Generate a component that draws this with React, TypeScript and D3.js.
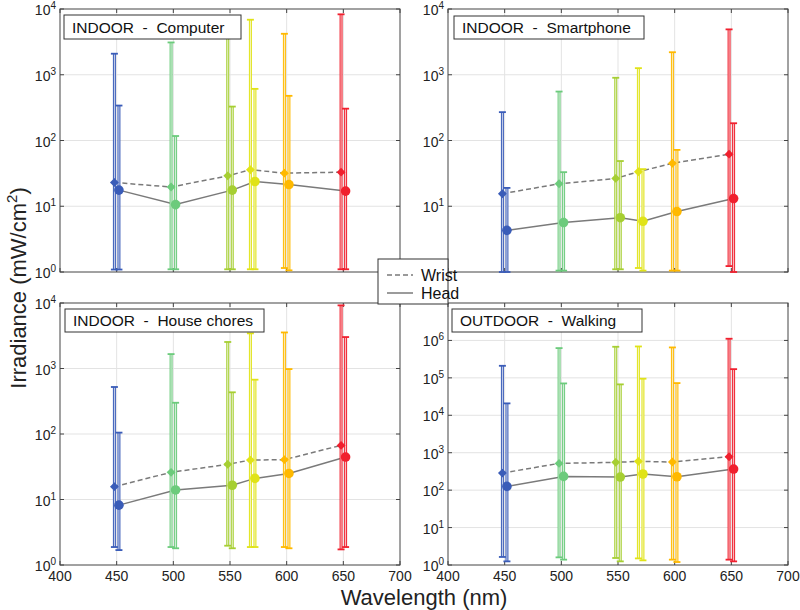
import { useEffect, useRef } from "react";
import * as d3 from "d3";

const wavelengths = [450, 500, 550, 570, 600, 650];
const colors = ["#3a5cb8", "#6ccb7c", "#a6cf32", "#e0e318", "#ffb900", "#f0202e"];

const titles = ["INDOOR  -  Computer", "INDOOR  -  Smartphone", "INDOOR  -  House chores", "OUTDOOR  -  Walking"];

// Computer
const pcWrist = [23, 19.6, 29, 35.9, 31.9, 33];
const pcWristHi = [2090, 3100, 5000, 6870, 4200, 8300];
const pcWristLo = [1.09, 1.1, 1.1, 1.1, 1.15, 1.1];
const pcHead = [17.6, 10.6, 17.6, 23.8, 21.4, 17];
const pcHeadHi = [340, 117, 328, 610, 478, 305];
const pcHeadLo = [1.09, 1.1, 1.1, 1.1, 1.06, 1.1];

// Smartphone
const spWrist = [15.5, 22, 26.5, 33.5, 45, 62];
const spWristHi = [270, 555, 900, 1260, 2200, 4900];
const spWristLo = [1.0, 1.05, 1.1, 1.15, 1.05, 1.23];
const spHead = [4.3, 5.65, 6.7, 5.9, 8.3, 13.1];
const spHeadHi = [19, 33, 48.7, 36.7, 72, 183];
const spHeadLo = [1.0, 1.05, 1.1, 1.05, 1.05, 1.0];

// House chores
const hcWrist = [15.7, 26, 34.4, 40, 40.6, 67];
const hcWristHi = [522, 1660, 2540, 3440, 3550, 9200];
const hcWristLo = [1.88, 1.88, 1.97, 1.88, 1.88, 1.73];
const hcHead = [8.2, 14, 16.5, 21, 25, 44.5];
const hcHeadHi = [105, 300, 433, 675, 980, 3020];
const hcHeadLo = [1.69, 1.8, 1.8, 1.88, 1.8, 1.88];

// Walking
const wkWrist = [286, 519, 552, 587, 563, 782];
const wkWristHi = [210000, 624000, 677000, 690000, 650000, 1110000];
const wkWristLo = [1.64, 1.6, 1.54, 1.5, 1.39, 1.39];
const wkHead = [126, 233, 224, 270, 228, 366];
const wkHeadHi = [20800, 71000, 67000, 95000, 72500, 171000];
const wkHeadLo = [1.25, 1.39, 1.25, 1.33, 1.2, 1.25];

const xTicks = [400, 450, 500, 550, 600, 650, 700];

export default function App() {
  const ref = useRef<SVGSVGElement>(null);

  useEffect(() => {
    const svg = d3.select(ref.current);
    svg.selectAll("*").remove();
    const font = "'Liberation Sans', Arial, sans-serif";
    const axisColor = "#444";

    const panels = [
      { x0: 60, y0: 9, x1: 400, y1: 272, maxExp: 4, topTick: 4, xLabels: false, hideZero: false,
        w: pcWrist, wHi: pcWristHi, wLo: pcWristLo, h: pcHead, hHi: pcHeadHi, hLo: pcHeadLo,
        box: [64, 15, 177, 24] },
      { x0: 448, y0: 9, x1: 788, y1: 272, maxExp: 4, topTick: 4, xLabels: false, hideZero: true,
        w: spWrist, wHi: spWristHi, wLo: spWristLo, h: spHead, hHi: spHeadHi, hLo: spHeadLo,
        box: [454, 16, 190, 23] },
      { x0: 60, y0: 303, x1: 400, y1: 565, maxExp: 4, topTick: 4, xLabels: true, hideZero: false,
        w: hcWrist, wHi: hcWristHi, wLo: hcWristLo, h: hcHead, hHi: hcHeadHi, hLo: hcHeadLo,
        box: [65, 309, 199, 23] },
      { x0: 448, y0: 303, x1: 788, y1: 565, maxExp: 7, topTick: 6, xLabels: true, hideZero: false,
        w: wkWrist, wHi: wkWristHi, wLo: wkWristLo, h: wkHead, hHi: wkHeadHi, hLo: wkHeadLo,
        box: [452, 309, 190, 23] },
    ];

    panels.forEach((p, pi) => {
      const x = d3.scaleLinear().domain([400, 700]).range([p.x0, p.x1]);
      const y = d3.scaleLog().domain([1, Math.pow(10, p.maxExp)]).range([p.y1, p.y0]);
      const g = svg.append("g");
      const yTicks = d3.range(0, p.topTick + 1).map(e => Math.pow(10, e));

      // grid
      xTicks.slice(1, -1).forEach(t => {
        g.append("line").attr("x1", x(t)).attr("x2", x(t)).attr("y1", p.y0).attr("y2", p.y1)
          .attr("stroke", "#e3e3e3").attr("stroke-width", 1);
      });
      yTicks.slice(1).forEach(t => {
        if (y(t) <= p.y0 + 1) return;
        g.append("line").attr("x1", p.x0).attr("x2", p.x1).attr("y1", y(t)).attr("y2", y(t))
          .attr("stroke", "#e3e3e3").attr("stroke-width", 1);
      });

      // frame + ticks
      g.append("rect").attr("x", p.x0).attr("y", p.y0).attr("width", p.x1 - p.x0).attr("height", p.y1 - p.y0)
        .attr("fill", "none").attr("stroke", axisColor).attr("stroke-width", 1);
      xTicks.forEach(t => {
        g.append("line").attr("x1", x(t)).attr("x2", x(t)).attr("y1", p.y1).attr("y2", p.y1 - 4).attr("stroke", axisColor);
        g.append("line").attr("x1", x(t)).attr("x2", x(t)).attr("y1", p.y0).attr("y2", p.y0 + 4).attr("stroke", axisColor);
        if (p.xLabels) {
          g.append("text").attr("x", x(t)).attr("y", p.y1 + 16).attr("text-anchor", "middle")
            .attr("font-family", font).attr("font-size", 14).attr("fill", "#222").text(t);
        }
      });
      yTicks.forEach(t => {
        const yy = y(t);
        g.append("line").attr("x1", p.x0).attr("x2", p.x0 + 4).attr("y1", yy).attr("y2", yy).attr("stroke", axisColor);
        g.append("line").attr("x1", p.x1).attr("x2", p.x1 - 4).attr("y1", yy).attr("y2", yy).attr("stroke", axisColor);
        if (t === 1 && p.hideZero) return; // hidden under the legend in the original
        const lab = g.append("text").attr("x", p.x0 - 4).attr("y", yy + 6).attr("text-anchor", "end")
          .attr("font-family", font).attr("font-size", 14).attr("fill", "#222");
        lab.append("tspan").text("10");
        lab.append("tspan").attr("dy", -6).attr("font-size", 10).text(Math.round(Math.log10(t)));
      });

      // mean lines
      const lineW = d3.line<number>().x((_, i) => x(wavelengths[i] - 2)).y(d => y(d));
      const lineH = d3.line<number>().x((_, i) => x(wavelengths[i] + 2)).y(d => y(d));
      g.append("path").attr("d", lineW(p.w)).attr("fill", "none").attr("stroke", "#7a7a7a")
        .attr("stroke-width", 1.5).attr("stroke-dasharray", "5,3");
      g.append("path").attr("d", lineH(p.h)).attr("fill", "none").attr("stroke", "#7a7a7a").attr("stroke-width", 1.5);

      // error bars
      const errBar = (xv: number, lo: number, hi: number, c: string) => {
        const xx = x(xv);
        const light = d3.interpolateRgb(c, "#ffffff")(0.75);
        g.append("line").attr("x1", xx).attr("x2", xx).attr("y1", y(lo)).attr("y2", y(hi))
          .attr("stroke", c).attr("stroke-width", 3);
        g.append("line").attr("x1", xx).attr("x2", xx).attr("y1", y(lo)).attr("y2", y(hi))
          .attr("stroke", light).attr("stroke-width", 1);
        [lo, hi].forEach(v => {
          g.append("line").attr("x1", xx - 3.5).attr("x2", xx + 3.5).attr("y1", y(v)).attr("y2", y(v))
            .attr("stroke", c).attr("stroke-width", 1.8);
        });
      };
      wavelengths.forEach((wl, i) => {
        errBar(wl - 2, p.wLo[i], p.wHi[i], colors[i]);
        errBar(wl + 2, p.hLo[i], p.hHi[i], colors[i]);
      });

      // markers
      wavelengths.forEach((wl, i) => {
        g.append("path").attr("d", d3.symbol(d3.symbolDiamond2, 50)())
          .attr("transform", `translate(${x(wl - 2)},${y(p.w[i])})`).attr("fill", colors[i]);
        g.append("circle").attr("cx", x(wl + 2)).attr("cy", y(p.h[i])).attr("r", 4.8).attr("fill", colors[i]);
      });

      // title box
      const [bx, by, bw, bh] = p.box;
      g.append("rect").attr("x", bx).attr("y", by).attr("width", bw).attr("height", bh)
        .attr("fill", "#fff").attr("stroke", "#333").attr("stroke-width", 1);
      g.append("text").attr("x", bx + 8).attr("y", by + bh / 2 + 5.5).attr("font-family", font)
        .attr("font-size", 15.5).attr("fill", "#111").attr("xml:space", "preserve")
        .style("white-space", "pre").text(titles[pi]);
    });

    // legend
    const lg = svg.append("g");
    lg.append("rect").attr("x", 378).attr("y", 259).attr("width", 70).attr("height", 45)
      .attr("fill", "#fff").attr("stroke", "#333").attr("stroke-width", 1);
    lg.append("line").attr("x1", 387).attr("x2", 413).attr("y1", 275).attr("y2", 275)
      .attr("stroke", "#7a7a7a").attr("stroke-width", 1.5).attr("stroke-dasharray", "5,3");
    lg.append("line").attr("x1", 387).attr("x2", 413).attr("y1", 293).attr("y2", 293)
      .attr("stroke", "#7a7a7a").attr("stroke-width", 1.5);
    lg.append("text").attr("x", 421).attr("y", 281).attr("font-family", font).attr("font-size", 16).attr("fill", "#111").text("Wrist");
    lg.append("text").attr("x", 421).attr("y", 299).attr("font-family", font).attr("font-size", 16).attr("fill", "#111").text("Head");

    // axis labels
    const yl = svg.append("text").attr("transform", "translate(26,288) rotate(-90)").attr("text-anchor", "middle")
      .attr("font-family", font).attr("font-size", 22).attr("fill", "#222");
    yl.append("tspan").text("Irradiance (mW/cm");
    yl.append("tspan").attr("dy", -9).attr("font-size", 15).text("2");
    yl.append("tspan").attr("dy", 9).text(")");
    svg.append("text").attr("x", 424).attr("y", 605).attr("text-anchor", "middle")
      .attr("font-family", font).attr("font-size", 22).attr("fill", "#222").text("Wavelength (nm)");
  }, []);

  return (
    <div style={{ position: "absolute", top: 0, left: 0, width: 800, height: 610 }}>
      <svg ref={ref} width={800} height={610} style={{ display: "block", background: "#fff" }} />
    </div>
  );
}
